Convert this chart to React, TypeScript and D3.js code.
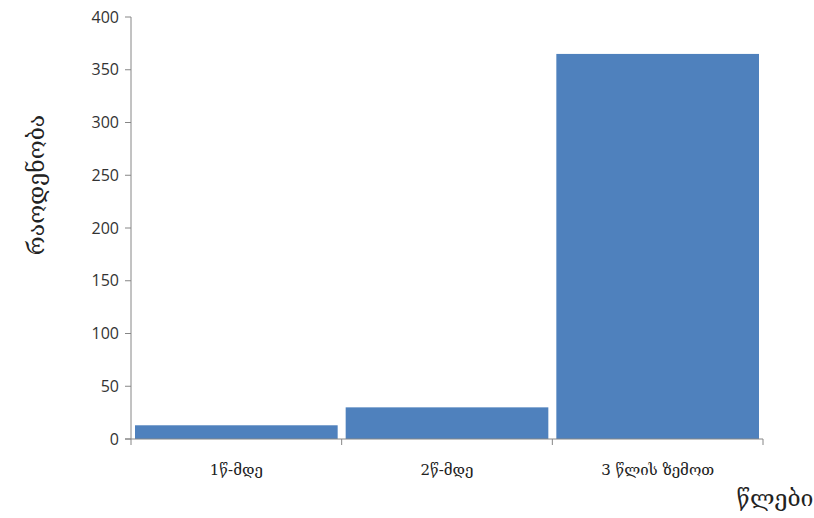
import React from "react";
import * as d3 from "d3";

const categories = ["1წ-მდე", "2წ-მდე", "3 წლის ზემოთ"];
const values = [13, 30, 365];
const yTicks = [0, 50, 100, 150, 200, 250, 300, 350, 400];
const yTitle = "რაოდენობა";
const xTitle = "წლები";

export default function App() {
  const W = 814, H = 518;
  const left = 131, right = 763, top = 17, bottom = 439;
  const x = d3.scaleBand<string>().domain(categories).range([left, right]).paddingInner(0.038).paddingOuter(0.019);
  const y = d3.scaleLinear().domain([0, 400]).range([bottom, top]);
  const band = (right - left) / categories.length;
  const axisColor = "#868686";
  const geoFont = "'DejaVu Serif', serif";
  return (
    <svg width={W} height={H} style={{ position: "absolute", left: 0, top: 0 }}>
      <rect width={W} height={H} fill="#fff" />
      {categories.map((c, i) => (
        <rect key={c} x={x(c)} y={y(values[i])} width={x.bandwidth()} height={bottom - y(values[i])} fill="#4F81BD" />
      ))}
      <line x1={left} x2={left} y1={top} y2={bottom + 6} stroke={axisColor} />
      <line x1={left - 6} x2={right} y1={bottom} y2={bottom} stroke={axisColor} />
      {yTicks.map((t) => (
        <g key={t}>
          <line x1={left - 6} x2={left} y1={y(t)} y2={y(t)} stroke={axisColor} />
          <text x={left - 12} y={y(t)} dy="0.35em" textAnchor="end" fontFamily="'Open Sans', sans-serif" fontSize={16} fill="#333">{t}</text>
        </g>
      ))}
      {categories.map((c, i) => (
        <line key={"t" + c} x1={left + band * (i + 1)} x2={left + band * (i + 1)} y1={bottom} y2={bottom + 6} stroke={axisColor} />
      ))}
      {categories.map((c, i) => (
        <text key={"l" + c} x={left + band * (i + 0.5)} y={475} textAnchor="middle" fontFamily={geoFont} fontSize={15} fill="#222">{c}</text>
      ))}
      <text transform={`translate(44,185) rotate(-90)`} textAnchor="middle" fontFamily={geoFont} fontSize={23} fill="#222">{yTitle}</text>
      <text x={775} y={506} textAnchor="middle" fontFamily={geoFont} fontSize={23} fill="#222">{xTitle}</text>
    </svg>
  );
}
